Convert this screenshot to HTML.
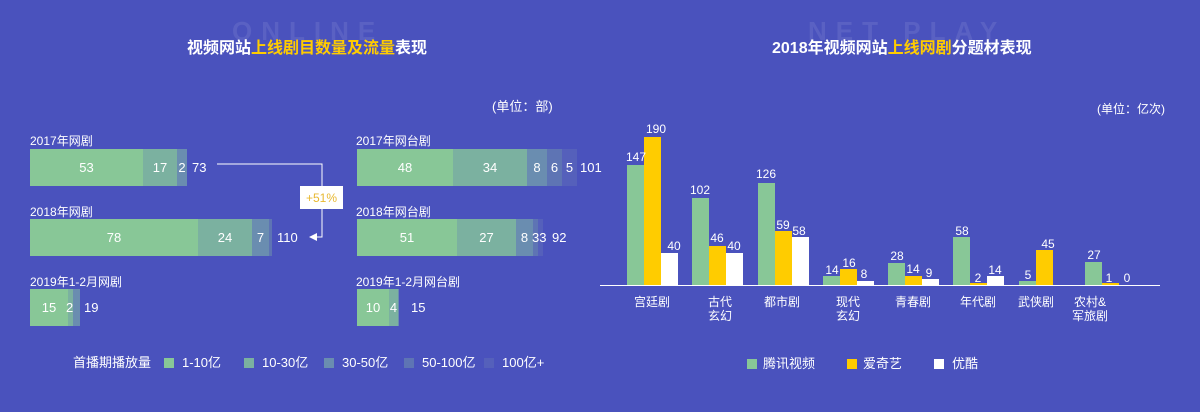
<!DOCTYPE html>
<html><head><meta charset="utf-8"><style>
*{margin:0;padding:0;box-sizing:border-box}
body{width:1200px;height:412px;background:#4a52bd;position:relative;overflow:hidden;font-family:"Liberation Sans","Noto Sans CJK SC",sans-serif;color:#fff}
.a{position:absolute;white-space:nowrap}
.t{font-size:16px;font-weight:bold;top:38px;line-height:22px}
.y{color:#ffcc00}
.wm{font-size:26px;font-weight:bold;color:rgba(255,255,255,0.09);letter-spacing:9px;top:16px;line-height:30px}
.lb{font-size:12px;line-height:14px}
.b{position:absolute;height:37px;font-size:13px;line-height:37px;text-align:center;color:#fff}
.c1{background:#88c797}.c2{background:#7bb1a0}.c3{background:#6a8db0}.c4{background:#5e74b4}.c5{background:#5560bb}
.n{position:absolute;font-size:13px;line-height:37px}
.sq{position:absolute;width:10px;height:10px}
.lg{font-size:13px;line-height:16px}
</style></head><body>
<div class="a wm" style="left:232px">ONLINE</div>
<div class="a wm" style="left:808px">NET PLAY</div>
<div class="a t" style="left:187px">视频网站<span class="y">上线剧目数量及流量</span>表现</div>
<div class="a t" style="left:772px">2018年视频网站<span class="y">上线网剧</span>分题材表现</div>
<div class="a" style="left:492px;top:96px;font-size:13px">(单位：部)</div>
<div class="a" style="left:1097px;top:100px;font-size:12px">(单位：亿次)</div>

<div class="a lb" style="left:30px;top:134px">2017年网剧</div>
<div class="b c1" style="left:30px;top:149px;width:113px">53</div>
<div class="b c2" style="left:143px;top:149px;width:34px">17</div>
<div class="b c3" style="left:177px;top:149px;width:10px">2</div>
<div class="n" style="left:192px;top:149px">73</div>
<div class="a lb" style="left:30px;top:205px">2018年网剧</div>
<div class="b c1" style="left:30px;top:219px;width:168px">78</div>
<div class="b c2" style="left:198px;top:219px;width:54px">24</div>
<div class="b c3" style="left:252px;top:219px;width:17px">7</div>
<div class="b c4" style="left:269px;top:219px;width:3px"></div>
<div class="n" style="left:277px;top:219px">110</div>
<div class="a lb" style="left:30px;top:275px">2019年1-2月网剧</div>
<div class="b c1" style="left:30px;top:289px;width:38px">15</div>
<div class="b c2" style="left:68px;top:289px;width:5px"></div>
<div class="b c3" style="left:73px;top:289px;width:7px"></div>
<div class="n" style="left:66px;top:289px">2</div>
<div class="n" style="left:84px;top:289px">19</div>

<svg class="a" style="left:0;top:0" width="600" height="412">
<polyline points="217,164 322,164 322,237 316,237" fill="none" stroke="#fff" stroke-width="1"/>
<polygon points="309,237 317,233 317,241" fill="#fff"/>
<rect x="300" y="186" width="43" height="23" fill="#fff"/>
<text x="321.5" y="202" text-anchor="middle" font-size="12" fill="#e8b830" font-family="Liberation Sans">+51%</text>
</svg>

<div class="a lb" style="left:356px;top:134px">2017年网台剧</div>
<div class="b c1" style="left:357px;top:149px;width:96px">48</div>
<div class="b c2" style="left:453px;top:149px;width:74px">34</div>
<div class="b c3" style="left:527px;top:149px;width:20px">8</div>
<div class="b c4" style="left:547px;top:149px;width:15px">6</div>
<div class="b c5" style="left:562px;top:149px;width:15px">5</div>
<div class="n" style="left:580px;top:149px">101</div>
<div class="a lb" style="left:356px;top:205px">2018年网台剧</div>
<div class="b c1" style="left:357px;top:219px;width:100px">51</div>
<div class="b c2" style="left:457px;top:219px;width:59px">27</div>
<div class="b c3" style="left:516px;top:219px;width:17px">8</div>
<div class="b c4" style="left:533px;top:219px;width:5px"></div>
<div class="b c5" style="left:538px;top:219px;width:5px"></div>
<div class="n" style="left:532px;top:219px">33</div>
<div class="n" style="left:552px;top:219px">92</div>
<div class="a lb" style="left:356px;top:275px">2019年1-2月网台剧</div>
<div class="b c1" style="left:357px;top:289px;width:32px">10</div>
<div class="b c2" style="left:389px;top:289px;width:9px">4</div>
<div class="b c3" style="left:398px;top:289px;width:1px"></div>
<div class="n" style="left:411px;top:289px">15</div>

<div class="a lg" style="left:73px;top:355px">首播期播放量</div>
<div class="sq c1" style="left:164px;top:358px"></div><div class="a lg" style="left:182px;top:355px">1-10亿</div>
<div class="sq c2" style="left:244px;top:358px"></div><div class="a lg" style="left:262px;top:355px">10-30亿</div>
<div class="sq c3" style="left:324px;top:358px"></div><div class="a lg" style="left:342px;top:355px">30-50亿</div>
<div class="sq c4" style="left:404px;top:358px"></div><div class="a lg" style="left:422px;top:355px">50-100亿</div>
<div class="sq c5" style="left:484px;top:358px"></div><div class="a lg" style="left:502px;top:355px">100亿+</div>

<svg class="a" style="left:600px;top:0" width="600" height="412" font-family="Liberation Sans, Noto Sans CJK SC, sans-serif" font-size="12" fill="#fff">
<g text-anchor="middle">
<rect x="27" y="165" width="17" height="120" fill="#88c797"/><rect x="44" y="137" width="17" height="148" fill="#ffcc00"/><rect x="61" y="253" width="17" height="32" fill="#fff"/>
<text x="36" y="161">147</text><text x="56" y="133">190</text><text x="74" y="250">40</text>
<rect x="92" y="198" width="17" height="87" fill="#88c797"/><rect x="109" y="246" width="17" height="39" fill="#ffcc00"/><rect x="126" y="253" width="17" height="32" fill="#fff"/>
<text x="100" y="194">102</text><text x="117" y="242">46</text><text x="134" y="250">40</text>
<rect x="158" y="183" width="17" height="102" fill="#88c797"/><rect x="175" y="231" width="17" height="54" fill="#ffcc00"/><rect x="192" y="237" width="17" height="48" fill="#fff"/>
<text x="166" y="178">126</text><text x="183" y="229">59</text><text x="199" y="235">58</text>
<rect x="223" y="276" width="17" height="9" fill="#88c797"/><rect x="240" y="269" width="17" height="16" fill="#ffcc00"/><rect x="257" y="281" width="17" height="4" fill="#fff"/>
<text x="232" y="274">14</text><text x="249" y="267">16</text><text x="264" y="278">8</text>
<rect x="288" y="263" width="17" height="22" fill="#88c797"/><rect x="305" y="276" width="17" height="9" fill="#ffcc00"/><rect x="322" y="279" width="17" height="6" fill="#fff"/>
<text x="297" y="260">28</text><text x="313" y="273">14</text><text x="329" y="277">9</text>
<rect x="353" y="237" width="17" height="48" fill="#88c797"/><rect x="370" y="283" width="17" height="2" fill="#ffcc00"/><rect x="387" y="276" width="17" height="9" fill="#fff"/>
<text x="362" y="235">58</text><text x="378" y="282">2</text><text x="395" y="274">14</text>
<rect x="419" y="281" width="17" height="4" fill="#88c797"/><rect x="436" y="250" width="17" height="36" fill="#ffcc00"/>
<text x="428" y="279">5</text><text x="448" y="248">45</text>
<rect x="485" y="262" width="17" height="23" fill="#88c797"/><rect x="502" y="283" width="17" height="2" fill="#ffcc00"/>
<text x="494" y="259">27</text><text x="509" y="282">1</text><text x="527" y="282">0</text>
<rect x="0" y="285" width="560" height="1" fill="#fff"/>
<text x="52" y="306">宫廷剧</text>
<text x="120" y="306">古代</text><text x="120" y="320">玄幻</text>
<text x="182" y="306">都市剧</text>
<text x="248" y="306">现代</text><text x="248" y="320">玄幻</text>
<text x="313" y="306">青春剧</text>
<text x="378" y="306">年代剧</text>
<text x="436" y="306">武侠剧</text>
<text x="490" y="306">农村&amp;</text><text x="490" y="320">军旅剧</text>
</g>
<rect x="147" y="359" width="10" height="10" fill="#88c797"/><text x="163" y="368" font-size="13">腾讯视频</text>
<rect x="247" y="359" width="10" height="10" fill="#ffcc00"/><text x="263" y="368" font-size="13">爱奇艺</text>
<rect x="334" y="359" width="10" height="10" fill="#fff"/><text x="352" y="368" font-size="13">优酷</text>
</svg>
</body></html>
